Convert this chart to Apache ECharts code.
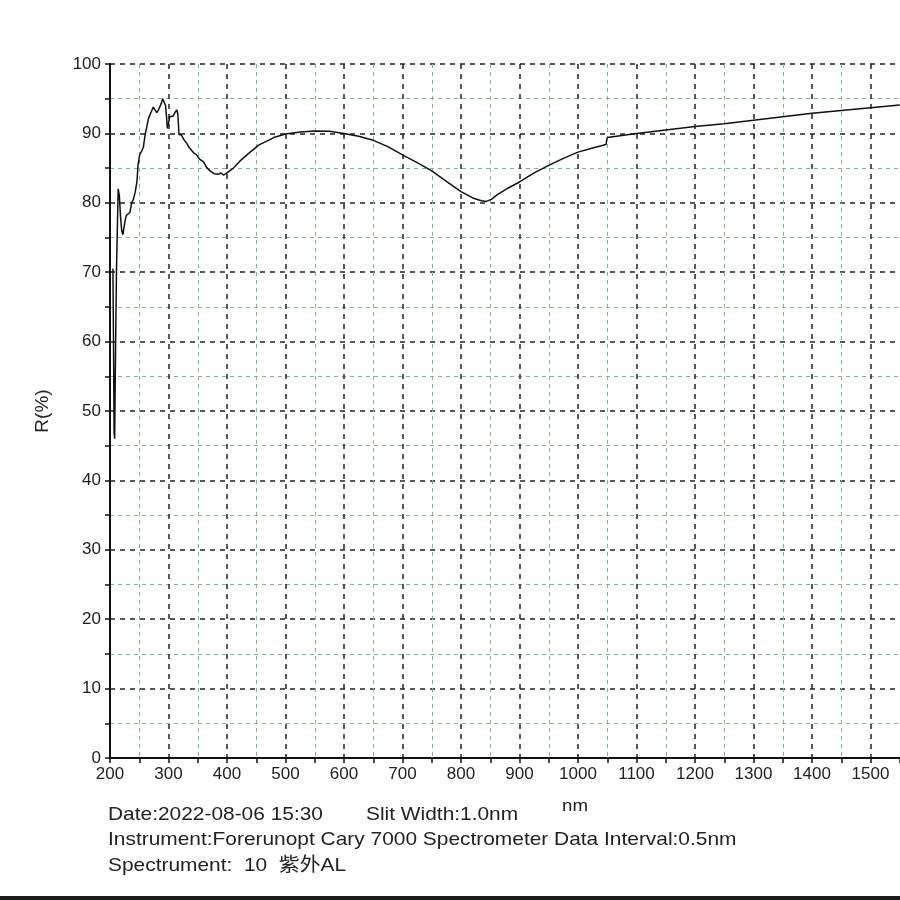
<!DOCTYPE html>
<html>
<head>
<meta charset="utf-8">
<title>R(%) spectrum</title>
<script src="https://cdn.jsdelivr.net/npm/echarts@6/dist/echarts.min.js"></script>
<style>
  html, body { margin: 0; padding: 0; background: #fff; }
  #chart { width: 900px; height: 900px; }
</style>
</head>
<body>
<div id="chart"></div>
<script>
// 波长 (nm)
const wavelengths = [
  205, 206, 207, 208, 209, 211, 213, 214, 215, 216, 218, 220, 222, 224, 226, 228, 231, 234, 237, 240,
  243, 246, 248, 251, 254, 257, 260, 263, 266, 270, 274, 277, 280, 283, 286, 288, 290, 293, 295, 297,
  298, 300, 302, 305, 308, 311, 314, 316, 318, 322, 325, 328, 331, 335, 339, 343, 348, 353, 360, 365,
  371, 378, 385, 390, 394, 400, 411, 422, 434, 454, 480, 500, 525, 550, 575, 600, 625, 650, 675, 700,
  725, 750, 775, 800, 820, 835, 843, 852, 861, 880, 900, 925, 950, 975, 1000, 1025, 1048, 1049, 1050, 1075,
  1100, 1150, 1200, 1250, 1300, 1350, 1400, 1450, 1500, 1550
]
// 反射率 R(%)
const reflectance = [
  70.5, 60, 47, 46, 55, 70, 78, 82, 82, 81, 78, 76, 75.4, 76.5, 77.5, 78.2, 78.3, 78.6, 80, 80.5,
  81.5, 83, 85.5, 87, 87.4, 88, 89.8, 91, 92.2, 93, 93.8, 93.4, 93.0, 93.4, 93.6, 94.4, 95.0, 95.2, 94, 92,
  90.7, 91.5, 92.4, 92.2, 92.5, 93.0, 93.4, 92.8, 89.8, 89.8, 89.3, 88.9, 88.6, 88.0, 87.6, 87.2, 86.9, 86.3, 85.9, 85.1,
  84.6, 84.2, 84.1, 84.3, 84.0, 84.3, 85.0, 86.0, 86.9, 88.3, 89.4, 89.9, 90.2, 90.35, 90.3, 90.0, 89.6, 89.0, 88.1, 86.9,
  85.8, 84.6, 83.1, 81.6, 80.7, 80.3, 80.2, 80.5, 81.1, 82.1, 83.0, 84.3, 85.4, 86.4, 87.3, 87.9, 88.4, 89.0, 89.4, 89.7,
  90.0, 90.5, 91.0, 91.4, 91.9, 92.4, 92.9, 93.3, 93.7, 94.1
]
const footerLines = [
  'Date:2022-08-06 15:30',
  'Instrument:Forerunopt Cary 7000 Spectrometer Data Interval:0.5nm',
  'Spectrument:  10  紫外AL'
]

const font = 'Liberation Sans, Arial, Noto Sans CJK SC, sans-serif'
const chart = echarts.init(document.getElementById('chart'))

const majorLine = { show: true, lineStyle: { color: '#222', width: 1.5, type: [5, 5] } }
const minorLine = { show: true, lineStyle: { color: '#7dbb7d', width: 1, type: [4, 4] } }

function footText(x, y, text, size) {
  return {
    type: 'text', x, y, scaleX: 1.1,
    style: { text, font: size + 'px ' + font, fill: '#222', verticalAlign: 'middle' }
  }
}

chart.setOption({
  animation: false,
  backgroundColor: '#fff',
  grid: { left: 110, top: 64, right: -29, bottom: 142, outerBoundsMode: 'none' },
  xAxis: {
    type: 'value',
    min: 200,
    max: 1600,
    interval: 100,
    axisLine: { lineStyle: { color: '#111', width: 2 } },
    axisTick: { show: true, length: 5, lineStyle: { color: '#111', width: 1.5 } },
    minorTick: { show: true, splitNumber: 2, length: 5, lineStyle: { color: '#111', width: 1.5 } },
    splitLine: majorLine,
    minorSplitLine: minorLine,
    axisLabel: { color: '#222', fontSize: 17, fontFamily: font, margin: 8, formatter: v => String(v) }
  },
  yAxis: {
    type: 'value',
    min: 0,
    max: 100,
    interval: 10,
    name: 'R(%)',
    nameLocation: 'middle',
    nameRotate: 90,
    nameGap: 58,
    nameTextStyle: { color: '#222', fontSize: 19, fontFamily: font },
    axisLine: { show: true, lineStyle: { color: '#111', width: 2 } },
    axisTick: { show: true, length: 5, lineStyle: { color: '#111', width: 1.5 } },
    minorTick: { show: true, splitNumber: 2, length: 5, lineStyle: { color: '#111', width: 1.5 } },
    splitLine: majorLine,
    minorSplitLine: minorLine,
    axisLabel: { color: '#222', fontSize: 17, fontFamily: font, margin: 9 }
  },
  series: [
    {
      type: 'line',
      data: wavelengths.map((w, i) => [w, reflectance[i]]),
      showSymbol: false,
      lineStyle: { color: '#111', width: 1.5 },
      clip: true
    }
  ],
  graphic: [
    footText(108, 815, footerLines[0], 19),
    footText(366, 815, 'Slit Width:1.0nm', 19),
    footText(562, 806, 'nm', 17),
    footText(108, 840, footerLines[1], 19),
    footText(108, 866, footerLines[2], 19),
    // 底部黑边
    { type: 'rect', shape: { x: 0, y: 896, width: 900, height: 4 }, style: { fill: '#1a1a1a' } }
  ]
})
</script>
</body>
</html>
